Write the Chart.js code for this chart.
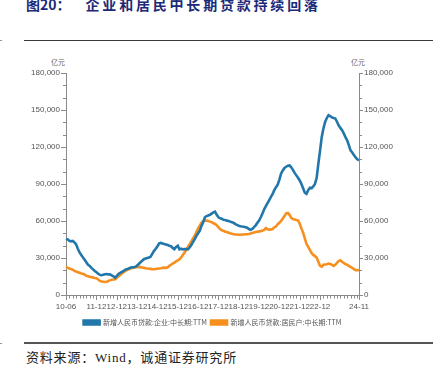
<!DOCTYPE html>
<html>
<head>
<meta charset="utf-8">
<script src="https://cdn.jsdelivr.net/npm/chart.js@4.4.1/dist/chart.umd.min.js"></script>
<style>
  body { margin: 0; width: 442px; height: 373px; background: #fff; position: relative; overflow: hidden; }
  .title { position: absolute; left: 26px; top: -3px; font: bold 14px "Noto Sans CJK SC"; color: #1b2a78; line-height: 14px; white-space: nowrap; }
  .title span { margin-left: 15px; letter-spacing: 2.8px; }
  .rule { position: absolute; left: 24px; width: 409px; height: 1.5px; background: #3a3a3a; }
  .edge { position: absolute; left: 0; width: 2px; height: 1px; background: #999; }
  .unit { position: absolute; top: 57px; font: 7px "Noto Sans CJK SC"; color: #666; }
  .source { position: absolute; left: 26px; top: 347px; font: 13px "Liberation Serif", "Noto Sans CJK SC"; color: #222; letter-spacing: 0.8px; white-space: nowrap; }
  #wrap { position: absolute; left: 0; top: 50px; width: 442px; height: 290px; }
</style>
</head>
<body>
<div class="title">图20：<span>企业和居民中长期贷款持续回落</span></div>
<div class="rule" style="top:39.5px"></div>
<div class="edge" style="top:40px"></div>
<div class="unit" style="left:51px">亿元</div>
<div class="unit" style="left:351px">亿元</div>
<div id="wrap"><canvas id="chart" width="442" height="290"></canvas></div>
<div class="rule" style="top:342px;background:#555"></div>
<div class="edge" style="top:343px"></div>
<div class="source">资料来源：Wind，诚通证券研究所</div>
<script>
// months 2010-06 .. 2024-11
const months = [];
for (let y = 2010, m = 6; y < 2024 || (y === 2024 && m <= 11); m++) {
  if (m > 12) { m = 1; y++; }
  months.push(String(y).slice(2) + '-' + String(m).padStart(2, '0'));
}
const tickLabels = ['10-06', '11-12', '12-12', '13-12', '14-12', '15-12', '16-12', '17-12', '18-12', '19-12', '20-12', '21-12', '22-12', '24-11'];

// 新增人民币贷款:企业:中长期:TTM (亿元)
const corpLoans = [
  45500, 45000, 44000, 43500, 43800, 42600, 41000,
  37500, 34500, 32500, 30500, 28500, 26500, 24500, 23600, 22000, 20800, 19500, 18500,
  17200, 16300, 16000, 16500, 16800, 17000, 16600, 16800, 16000, 15200, 14000, 15500,
  17000, 18000, 18800, 19500, 20500, 21000, 21500, 22200, 22500, 22600, 22800, 24000,
  25200, 26500, 27800, 29000, 29600, 30000, 30400, 31200, 33500, 35800, 37500, 39500,
  41800, 42200, 41800, 41300, 41000, 40500, 39900, 39500, 38200, 37200, 39000, 40000,
  37000, 37500, 37000, 37200, 37300, 37000, 38500, 40500, 43000, 45300, 48000, 50000,
  52100, 56000, 59000, 63000, 64000, 64500, 65000, 66000, 67000, 67600, 65000, 63000,
  62200, 61800, 61000, 60800, 60300, 60000, 59500, 59000, 58500, 57500, 56800, 56200,
  55800, 55500, 55400, 55000, 54500, 53500, 52800, 53500, 55000, 56500, 58500, 60300,
  63000, 66000, 69500, 72000, 74500, 77000, 79500, 82000, 85000, 87400, 89500, 93500,
  98500, 101000, 103000, 104000, 104800, 105000, 103500, 101500, 99000, 97000, 95000, 92900,
  90000, 86500, 83000, 82000, 85000, 86900, 86500, 88000, 90000, 95000, 106400, 117000,
  128100, 135000, 140300, 143500, 145800, 145000, 144000, 143500, 143100, 140500, 137500, 135500,
  133600, 131000, 128000, 125400, 121500, 117300, 115500, 113500, 111500, 110000, 109100
];
// 新增人民币贷款:居民户:中长期:TTM (亿元)
const houseLoans = [
  22800, 22000, 21500, 21000, 20500, 19500, 19000,
  18500, 18000, 17500, 17200, 16500, 15500, 15200, 14800, 14500, 14200, 13800, 13600,
  12500, 11400, 11000, 10800, 10600, 10800, 11300, 12000, 12300, 12500, 12800, 14000,
  15200, 16300, 17500, 18500, 19500, 20200, 20800, 21400, 21800, 22200, 22500, 22600,
  22800, 22600, 22300, 22000, 21700, 21500, 21300, 21200, 21000, 20900, 21100, 21300,
  21500, 21700, 22000, 22200, 22000, 22500, 23600, 24500, 25500, 26300, 27200, 28000,
  29000, 30500, 32500, 34500, 36500, 39000, 41300, 43500, 45800, 48000, 51000, 54000,
  56200, 58500, 59800, 60300, 60300, 60000, 59500, 59000, 58200, 57600, 56500, 55000,
  53500, 52500, 52000, 51300, 51000, 50500, 50000, 49600, 49300, 49100, 49000, 48900,
  48900, 49000, 49100, 49200, 49300, 49400, 49800, 50300, 50700, 51000, 51300, 51600,
  51800, 52200, 52700, 54300, 53200, 53000, 53200, 53500, 54800, 55500, 57500, 58500,
  60000, 62000, 64000, 66200, 66500, 65000, 62500, 61600, 61200, 60800, 60500, 57800,
  54000, 50500, 46000, 41500, 39000, 36500, 34000, 32500, 31500, 30400, 27000, 23600,
  23000, 24500, 24800, 25000, 25500, 25200, 24500, 23600, 24500, 26000, 27500, 28200,
  27000, 26000, 25000, 24500, 23600, 22800, 22000, 21000, 20100, 20300, 20000
];

const BLUE = '#2277aa';
const ORANGE = '#f68f1e';
const AXIS = '#8a8a8a';

// small and big tick marks on the three axes
const tickMarks = {
  id: 'tickMarks',
  afterDraw(chart) {
    const ctx = chart.ctx;
    const { x, y, y2 } = chart.scales;
    ctx.save();
    ctx.strokeStyle = AXIS;
    ctx.lineWidth = 1;
    ctx.beginPath();
    for (let v = 0; v <= 180000; v += 10000) {
      const big = v % 30000 === 0;
      const py = Math.round(y.getPixelForValue(v)) + 0.5;
      ctx.moveTo(y.right - (big ? 5 : 3), py);
      ctx.lineTo(y.right, py);
      ctx.moveTo(y2.left, py);
      ctx.lineTo(y2.left + (big ? 4 : 3), py);
    }
    for (let i = 0; i < months.length; i++) {
      const big = tickLabels.includes(months[i]);
      if (i % 2 !== 0 && !big) continue;
      const px = Math.round(x.getPixelForValue(i)) + 0.5;
      ctx.moveTo(px, x.top);
      ctx.lineTo(px, x.top + (big ? 5 : 3.5));
    }
    ctx.stroke();
    ctx.restore();
  }
};

Chart.defaults.font.family = '"Liberation Sans", Arial, sans-serif';
Chart.defaults.font.size = 8;
Chart.defaults.color = '#555';

new Chart(document.getElementById('chart'), {
  type: 'line',
  data: {
    labels: months,
    datasets: [
      {
        label: '新增人民币贷款:企业:中长期:TTM',
        data: corpLoans,
        borderColor: BLUE,
        backgroundColor: BLUE,
        borderWidth: 2.6,
        pointRadius: 0,
        yAxisID: 'y'
      },
      {
        label: '新增人民币贷款:居民户:中长期:TTM',
        data: houseLoans,
        borderColor: ORANGE,
        backgroundColor: ORANGE,
        borderWidth: 2.6,
        pointRadius: 0,
        yAxisID: 'y'
      }
    ]
  },
  options: {
    responsive: false,
    devicePixelRatio: 1,
    animation: false,
    layout: { padding: { top: 23, bottom: 4 } },
    plugins: {
      tooltip: { enabled: false },
      legend: {
        position: 'bottom',
        fullSize: false,
        labels: {
          boxWidth: 16,
          boxHeight: 4,
          padding: 4,
          color: '#555',
          font: { family: '"Noto Sans CJK SC"', size: 7 }
        }
      }
    },
    scales: {
      x: {
        offset: false,
        grid: { display: false, drawTicks: true, tickLength: 5 },
        border: { display: true, color: AXIS },
        ticks: {
          autoSkip: false,
          maxRotation: 0,
          minRotation: 0,
          padding: 2,
          callback: (v) => tickLabels.includes(months[v]) ? months[v] : ''
        },
        afterFit: (s) => { s.height = 20; }
      },
      y: {
        position: 'left',
        min: 0,
        max: 180000,
        grid: { display: false, drawTicks: true, tickLength: 5 },
        border: { display: true, color: AXIS },
        ticks: {
          stepSize: 30000,
          padding: 1,
          callback: (v) => v.toLocaleString('en-US')
        },
        afterFit: (s) => { s.width = 66; }
      },
      y2: {
        position: 'right',
        min: 0,
        max: 180000,
        grid: { display: false, drawTicks: true, tickLength: 4 },
        border: { display: true, color: AXIS },
        ticks: {
          stepSize: 30000,
          padding: 1,
          callback: (v) => v.toLocaleString('en-US')
        },
        afterFit: (s) => { s.width = 83; }
      }
    }
  },
  plugins: [tickMarks]
});
</script>
</body>
</html>
